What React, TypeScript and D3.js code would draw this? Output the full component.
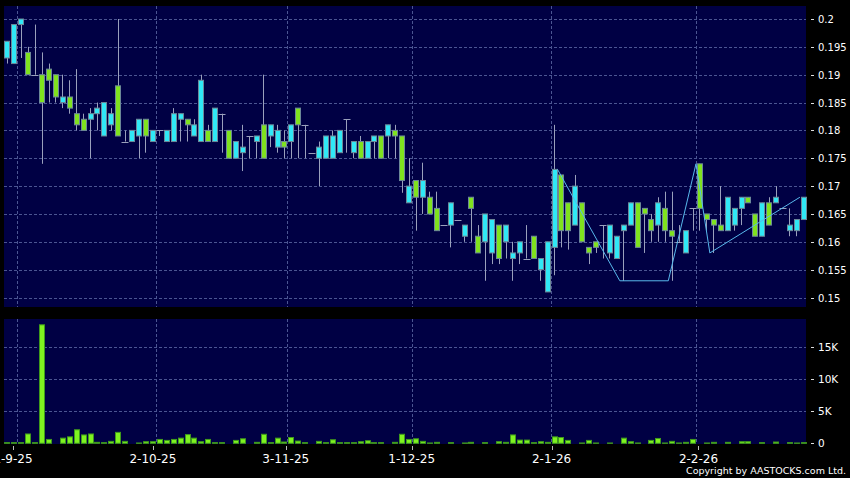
import * as d3 from 'd3'

// daily OHLC (116 trading days)
const opens = [
  0.193, 0.192, 0.199, 0.194, 0.19, 0.19, 0.191, 0.19, 0.185, 0.186,
  0.183, 0.182, 0.182, 0.183, 0.179, 0.181, 0.188, 0.178, 0.178, 0.179,
  0.182, 0.178, 0.18, 0.178, 0.178, 0.182, 0.182, 0.179, 0.178, 0.18,
  0.178, 0.183, 0.18, 0.175, 0.176, 0.179, 0.178, 0.181, 0.179, 0.177,
  0.178, 0.178, 0.184, 0.181, 0.176, 0.175, 0.175, 0.175, 0.176, 0.182,
  0.176, 0.178, 0.175, 0.178, 0.179, 0.179, 0.18, 0.179, 0.167, 0.171,
  0.168, 0.168, 0.166, 0.163, 0.163, 0.164, 0.161, 0.168, 0.161, 0.16,
  0.158, 0.163, 0.16, 0.157, 0.158, 0.157, 0.161, 0.155, 0.151, 0.159,
  0.172, 0.167, 0.163, 0.167, 0.159, 0.16, 0.163, 0.158, 0.157, 0.162,
  0.163, 0.167, 0.166, 0.164, 0.163, 0.166, 0.162, 0.16, 0.158, 0.166,
  0.174, 0.165, 0.164, 0.163, 0.162, 0.163, 0.166, 0.168, 0.165, 0.161,
  0.167, 0.167, 0.166, 0.162, 0.162, 0.164
]
const closes = [
  0.196, 0.199, 0.2, 0.19, 0.19, 0.185, 0.189, 0.186, 0.186, 0.184,
  0.181, 0.18, 0.183, 0.184, 0.185, 0.183, 0.179, 0.178, 0.18, 0.182,
  0.179, 0.18, 0.18, 0.18, 0.183, 0.183, 0.181, 0.181, 0.189, 0.178,
  0.184, 0.183, 0.175, 0.178, 0.177, 0.179, 0.179, 0.175, 0.181, 0.18,
  0.177, 0.181, 0.181, 0.181, 0.176, 0.177, 0.179, 0.179, 0.18, 0.182,
  0.178, 0.175, 0.178, 0.179, 0.175, 0.181, 0.179, 0.171, 0.17, 0.168,
  0.171, 0.165, 0.162, 0.163, 0.167, 0.164, 0.163, 0.166, 0.158, 0.165,
  0.164, 0.157, 0.163, 0.158, 0.16, 0.157, 0.157, 0.157, 0.16, 0.173,
  0.162, 0.162, 0.17, 0.16, 0.158, 0.159, 0.163, 0.163, 0.161, 0.163,
  0.167, 0.159, 0.165, 0.162, 0.167, 0.162, 0.161, 0.16, 0.162, 0.166,
  0.166, 0.164, 0.163, 0.162, 0.168, 0.166, 0.168, 0.167, 0.161, 0.167,
  0.163, 0.168, 0.166, 0.163, 0.164, 0.168
]
const highs = [
  0.196, 0.199, 0.2, 0.195, 0.199, 0.194, 0.192, 0.19, 0.19, 0.189,
  0.191, 0.183, 0.184, 0.185, 0.185, 0.184, 0.2, 0.18, 0.18, 0.182,
  0.182, 0.18, 0.18, 0.18, 0.184, 0.183, 0.182, 0.182, 0.19, 0.181,
  0.184, 0.183, 0.18, 0.178, 0.181, 0.179, 0.179, 0.19, 0.181, 0.181,
  0.18, 0.181, 0.184, 0.181, 0.176, 0.178, 0.179, 0.18, 0.18, 0.182,
  0.178, 0.179, 0.178, 0.179, 0.179, 0.181, 0.181, 0.179, 0.175, 0.171,
  0.1742, 0.169, 0.169, 0.163, 0.167, 0.164, 0.163, 0.168, 0.163, 0.165,
  0.164, 0.163, 0.163, 0.16, 0.16, 0.163, 0.161, 0.157, 0.16, 0.181,
  0.172, 0.167, 0.172, 0.167, 0.159, 0.16, 0.163, 0.163, 0.161, 0.163,
  0.167, 0.167, 0.166, 0.165, 0.168, 0.169, 0.169, 0.163, 0.162, 0.166,
  0.174, 0.165, 0.164, 0.17, 0.168, 0.166, 0.168, 0.168, 0.165, 0.167,
  0.168, 0.17, 0.166, 0.166, 0.164, 0.168
]
const lows = [
  0.192, 0.192, 0.193, 0.19, 0.19, 0.174, 0.185, 0.185, 0.184, 0.183,
  0.18, 0.18, 0.175, 0.18, 0.179, 0.18, 0.179, 0.178, 0.178, 0.175,
  0.176, 0.178, 0.179, 0.178, 0.178, 0.178, 0.178, 0.179, 0.178, 0.178,
  0.178, 0.176, 0.175, 0.175, 0.1727, 0.175, 0.175, 0.175, 0.177, 0.176,
  0.175, 0.175, 0.175, 0.175, 0.176, 0.17, 0.175, 0.175, 0.176, 0.176,
  0.175, 0.175, 0.175, 0.175, 0.175, 0.175, 0.175, 0.1688, 0.167, 0.162,
  0.165, 0.165, 0.162, 0.163, 0.159, 0.164, 0.16, 0.16, 0.158, 0.153,
  0.156, 0.156, 0.157, 0.153, 0.156, 0.157, 0.157, 0.153, 0.151, 0.154,
  0.159, 0.1586, 0.163, 0.16, 0.156, 0.158, 0.157, 0.157, 0.157, 0.153,
  0.163, 0.159, 0.158, 0.16, 0.16, 0.16, 0.153, 0.16, 0.158, 0.162,
  0.162, 0.162, 0.158, 0.162, 0.162, 0.162, 0.163, 0.167, 0.161, 0.161,
  0.163, 0.167, 0.166, 0.161, 0.161, 0.164
]
const volumes = [
  100, 100, 100, 1450, 100, 18400, 600, 0, 800, 1000,
  2100, 1300, 1450, 150, 100, 300, 1700, 300, 0, 50,
  250, 250, 600, 450, 600, 800, 1350, 800, 250, 600,
  100, 100, 0, 450, 700, 0, 150, 1400, 100, 800,
  200, 900, 350, 100, 0, 300, 100, 550, 100, 100,
  100, 250, 400, 100, 100, 0, 150, 1400, 600, 700,
  300, 50, 150, 0, 100, 0, 50, 150, 0, 100,
  0, 250, 150, 1300, 500, 500, 100, 250, 150, 1000,
  900, 450, 0, 50, 450, 50, 0, 50, 0, 800,
  250, 50, 0, 450, 750, 50, 300, 50, 150, 600,
  0, 50, 150, 0, 150, 0, 250, 250, 0, 100,
  0, 200, 0, 100, 50, 100
]

// overlay line (day index, price)
const lineDays = [79, 88, 95, 99, 101, 114]
const lineValues = [0.173, 0.153, 0.153, 0.174, 0.158, 0.168]

const tickDays = [2, 22, 41, 59, 79, 100]
const tickLabels = ['1-9-25', '2-10-25', '3-11-25', '1-12-25', '2-1-26', '2-2-26']
const priceTicks = [0.15, 0.155, 0.16, 0.165, 0.17, 0.175, 0.18, 0.185, 0.19, 0.195, 0.2]
const volumeTicks = [0, 5000, 10000, 15000]
const volumeTickLabels = ['0', '5K', '10K', '15K']

const UP = '#30e8f6'
const DOWN = '#80e21e'
const EDGE = '#6c8898'
const WICK = '#9aa0bc'
const GRID = '#4b5592'
const NAVY = '#000044'
const FONT = 'DejaVu Sans, sans-serif'

export default function App() {
  const days = d3.range(closes.length)
  const x = d3.scaleBand<number>().domain(days).range([3.5, 806.8])
  const step = x.step()
  const cx = (i: number) => (x(i) ?? 0) + step / 2
  // date labels sit on a slightly wider scale than the candles
  const xAxis = d3.scaleLinear().domain([0, days.length]).range([2.5, 813.9])
  const y = d3.scaleLinear().domain([0.15, 0.2]).range([297.5, 19])
  const v = d3.scaleLinear().domain([0, 15000]).range([443.3, 346.7])
  const bodyW = 5

  const overlay = d3
    .line<number>()
    .x((_, k) => cx(lineDays[k]) + step / 2)
    .y((d) => y(d))(lineValues)

  const gridX = tickDays.map((d) => x(d) ?? 0)
  const labelX = tickDays.map((d) => xAxis(d - 0.5))

  return (
    <div style={{ position: 'absolute', left: 0, top: 0 }}>
      <svg width={850} height={478} style={{ display: 'block', background: '#000' }}>
        <rect x={0} y={0} width={850} height={478} fill='#000' />

        {/* price panel */}
        <rect x={4} y={6} width={802} height={301} fill={NAVY} />
        <g stroke={GRID} strokeWidth={1} strokeDasharray='3,2'>
          {priceTicks.map((t) => (
            <line key={'py' + t} x1={4} x2={806} y1={Math.round(y(t)) + 0.5} y2={Math.round(y(t)) + 0.5} />
          ))}
          {gridX.map((gx, k) => (
            <line key={'px' + k} x1={Math.round(gx) + 0.5} x2={Math.round(gx) + 0.5} y1={6} y2={307} />
          ))}
        </g>

        {/* wicks */}
        <g stroke={WICK} strokeWidth={1}>
          {days.map((i) => (
            <line
              key={'w' + i}
              x1={Math.round(cx(i)) + 0.5}
              x2={Math.round(cx(i)) + 0.5}
              y1={y(highs[i])}
              y2={y(lows[i])}
            />
          ))}
        </g>

        {/* bodies */}
        <g>
          {days.map((i) => {
            const o = opens[i]
            const c = closes[i]
            const left = Math.round(cx(i) - bodyW / 2) + 0.5
            if (o === c) {
              return (
                <line
                  key={'b' + i}
                  x1={left - 1}
                  x2={left + bodyW + 1}
                  y1={Math.round(y(c)) + 0.5}
                  y2={Math.round(y(c)) + 0.5}
                  stroke={WICK}
                  strokeWidth={1}
                />
              )
            }
            const top = y(Math.max(o, c))
            const h = Math.abs(y(o) - y(c))
            return (
              <rect
                key={'b' + i}
                x={left}
                y={top}
                width={bodyW}
                height={h}
                fill={c > o ? UP : DOWN}
                stroke={EDGE}
                strokeWidth={1}
              />
            )
          })}
        </g>

        <path d={overlay ?? ''} fill='none' stroke='#58b8ec' strokeWidth={1} />

        {/* price axis */}
        {priceTicks.map((t) => (
          <g key={'pl' + t}>
            <line x1={811} x2={814} y1={Math.round(y(t)) + 0.5} y2={Math.round(y(t)) + 0.5} stroke='#ddd' />
            <text x={818} y={y(t) + 4} fill='#fff' fontSize={10} fontFamily={FONT}>
              {String(+t.toFixed(3))}
            </text>
          </g>
        ))}

        {/* volume panel */}
        <rect x={4} y={319} width={802} height={125} fill={NAVY} />
        <g stroke={GRID} strokeWidth={1} strokeDasharray='3,2'>
          {volumeTicks.slice(1).map((t) => (
            <line key={'vy' + t} x1={4} x2={806} y1={Math.round(v(t)) + 0.5} y2={Math.round(v(t)) + 0.5} />
          ))}
          {gridX.map((gx, k) => (
            <line key={'vx' + k} x1={Math.round(gx) + 0.5} x2={Math.round(gx) + 0.5} y1={319} y2={444} />
          ))}
        </g>
        <g fill='#7ff220' stroke='#3f9a1c' strokeWidth={1}>
          {days
            .filter((i) => volumes[i] > 0)
            .map((i) => (
              <rect
                key={'v' + i}
                x={Math.round(cx(i) - bodyW / 2) + 0.5}
                y={v(volumes[i])}
                width={bodyW}
                height={v(0) - v(volumes[i])}
              />
            ))}
        </g>
        {volumeTicks.map((t, k) => (
          <g key={'vl' + t}>
            <line x1={811} x2={814} y1={Math.round(v(t)) + 0.5} y2={Math.round(v(t)) + 0.5} stroke='#ddd' />
            <text x={818} y={v(t) + 4} fill='#fff' fontSize={10.5} fontFamily={FONT}>
              {volumeTickLabels[k]}
            </text>
          </g>
        ))}

        {/* date axis */}
        {labelX.map((lx, k) => (
          <g key={'xl' + k}>
            <line x1={Math.round(lx) + 0.5} x2={Math.round(lx) + 0.5} y1={446} y2={450} stroke='#bbb' />
            <text x={lx} y={463} fill='#fff' fontSize={12} fontFamily={FONT} textAnchor='middle'>
              {tickLabels[k]}
            </text>
          </g>
        ))}

        <text x={846} y={474} fill='#fff' fontSize={9.5} fontFamily={FONT} textAnchor='end'>
          Copyright by AASTOCKS.com Ltd.
        </text>
      </svg>
    </div>
  )
}
